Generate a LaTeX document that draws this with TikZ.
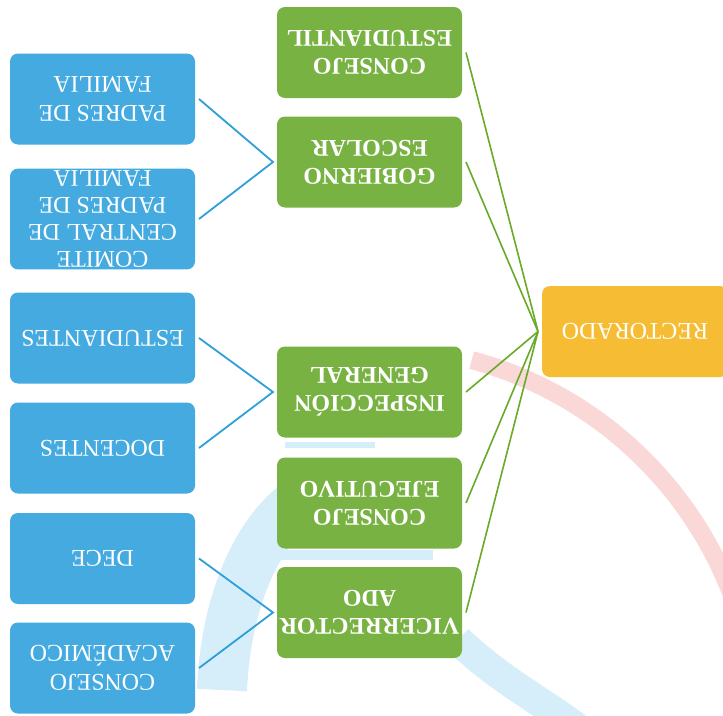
\documentclass[tikz,border=0pt]{standalone}
\usepackage{fontspec}
\setmainfont{Liberation Serif}
\usepackage{tikz}
\definecolor{cBlue}{RGB}{68,170,224}
\definecolor{cGreen}{RGB}{120,178,66}
\definecolor{cOrange}{RGB}{246,189,52}
\definecolor{cLineBlue}{RGB}{45,160,215}
\definecolor{cLineGreen}{RGB}{105,170,40}
\definecolor{cPink}{RGB}{250,216,216}
\definecolor{cSky}{RGB}{214,237,250}
\tikzset{
        box/.style={rectangle,rounded corners=8pt,minimum width=185pt,minimum height=91pt,
                    inner sep=2pt,outer sep=4pt,align=center,text=white,rotate=180,
                    font=\fontsize{24}{29}\selectfont},
        bluebox/.style={box,fill=cBlue},
        greenbox/.style={box,fill=cGreen,font=\fontsize{24}{28}\selectfont\bfseries},
        orangebox/.style={box,fill=cOrange,minimum width=186pt},
        blueline/.style={draw=cLineBlue,line width=1.8pt},
        greenline/.style={draw=cLineGreen,line width=1.6pt}
}
\begin{document}
\begin{tikzpicture}[x=1pt,y=-1pt]
        \useasboundingbox (0,0) rectangle (723,715);
        \clip (0,0) rectangle (723,715);
        \fill[white] (0,0) rectangle (723,715);
        \draw[cPink,line width=18pt] ([shift={(-75:385)}]372,732) arc[start angle=-75,end angle=-12,radius=385];
        \draw[cSky,line width=50pt] (320,490) .. controls (262,515) and (226,595) .. (222,690);
        \draw[cSky,line width=30pt] (458,640) .. controls (500,680) and (540,700) .. (580,730);
        \fill[cSky] (285,442) rectangle (375,448);
        \fill[cSky] (277,550) rectangle (433,560);

        \node[bluebox] (padres) at (102.5,99) {PADRES DE\\FAMILIA};
        \node[bluebox,font=\fontsize{24}{27}\selectfont] (comite) at (102.5,219) {COMITE\\CENTRAL DE\\PADRES DE\\FAMILIA};
        \node[bluebox] (estudiantes) at (102.5,338) {ESTUDIANTES};
        \node[bluebox] (docentes) at (102.5,448) {DOCENTES};
        \node[bluebox] (dece) at (102.5,558.5) {DECE};
        \node[bluebox] (academico) at (102.5,668) {CONSEJO\\ACADÉMICO};

        \node[greenbox] (estudiantil) at (369.5,52.5) {CONSEJO\\ESTUDIANTIL};
        \node[greenbox] (gobierno) at (369.5,162) {GOBIERNO\\ESCOLAR};
        \node[greenbox] (inspeccion) at (369.5,392) {INSPECCIÓN\\GENERAL};
        \node[greenbox] (ejecutivo) at (369.5,503) {CONSEJO\\EJECUTIVO};
        \node[greenbox] (vicerrector) at (369.5,612.5) {VICERRECTOR\\ADO};

        \node[orangebox] (rectorado) at (635,331.5) {RECTORADO};

        \draw[blueline] (padres.west) -- (gobierno.east) -- (comite.west);
        \draw[blueline] (estudiantes.west) -- (inspeccion.east) -- (docentes.west);
        \draw[blueline] (dece.west) -- (vicerrector.east) -- (academico.west);

        \foreach \g in {estudiantil,gobierno,inspeccion,ejecutivo,vicerrector}
                \draw[greenline] (\g.west) -- (rectorado.east);
\end{tikzpicture}
\end{document}
